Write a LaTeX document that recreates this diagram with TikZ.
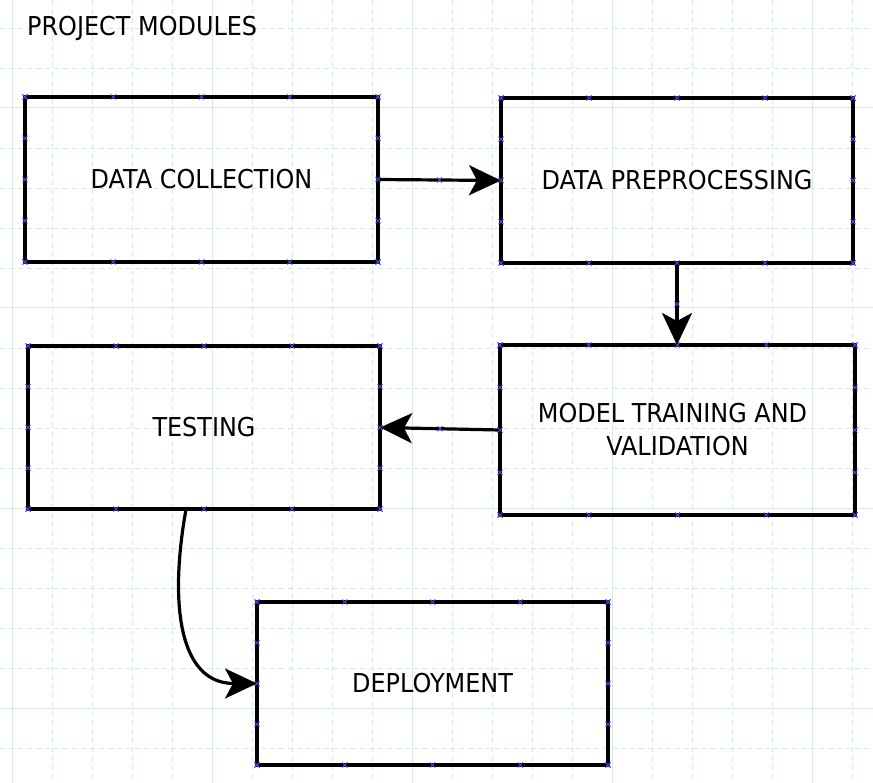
\documentclass[tikz,border=0pt]{standalone}
\usepackage{fontspec}
\setmainfont{DejaVu Sans}[FakeStretch=0.92]
\usetikzlibrary{arrows.meta,calc}
\definecolor{gridc}{RGB}{214,232,232}
\definecolor{markc}{RGB}{70,70,230}
\tikzset{
  boxnode/.style={draw=black, line width=4pt, inner sep=0pt, outer sep=0pt, align=center,
    font=\fontsize{26}{33}\selectfont},
  conn/.style={line width=3.2pt, -{Stealth[length=32pt,width=30pt,inset=8pt]}},
  gridmajor/.style={draw=gridc, line width=1pt},
  gridminor/.style={draw=gridc, line width=0.9pt, dash pattern=on 5pt off 4pt},
  markx/.style={draw=markc, line width=0.8pt}
}
\newcommand{\xmark}[1]{\draw[markx] ($(#1)+(-2.5pt,-2.5pt)$) -- ($(#1)+(2.5pt,2.5pt)$) ($(#1)+(-2.5pt,2.5pt)$) -- ($(#1)+(2.5pt,-2.5pt)$);}
\begin{document}
\begin{tikzpicture}[x=1pt,y=-1pt]
\useasboundingbox (0,0) rectangle (873,783);
\fill[white] (0,0) rectangle (873,783);
% grid
\foreach \k in {0,...,21}{
  \pgfmathtruncatemacro{\m}{mod(\k,5)}
  \pgfmathsetmacro{\xx}{12+40*\k}
  \ifnum\m=0 \draw[gridmajor] (\xx,0) -- (\xx,783); \else \draw[gridminor] (\xx,0) -- (\xx,783); \fi
}
\foreach \k in {0,...,19}{
  \pgfmathtruncatemacro{\m}{mod(\k,5)}
  \pgfmathsetmacro{\yy}{28+40*\k}
  \ifnum\m=2 \draw[gridmajor] (0,\yy) -- (873,\yy); \else \draw[gridminor] (0,\yy) -- (873,\yy); \fi
}
% title
\node[anchor=base west, inner sep=0pt, font=\fontsize{26}{33}\selectfont] (title) at (27,36) {PROJECT MODULES};
% boxes
\node[boxnode, minimum width=353pt, minimum height=165pt] (dc) at (201.5,179.5) {DATA COLLECTION};
\node[boxnode, minimum width=352pt, minimum height=165pt] (dp) at (677,180.5) {DATA PREPROCESSING};
\node[boxnode, minimum width=355pt, minimum height=170pt] (mt) at (677.5,430) {MODEL TRAINING AND\hspace*{10pt}\\VALIDATION};
\node[boxnode, minimum width=352pt, minimum height=163pt] (ts) at (204,427.5) {TESTING};
\node[boxnode, minimum width=351pt, minimum height=163pt] (dep) at (432.5,683.5) {DEPLOYMENT};
% connectors
\draw[conn] (dc.east) -- (dp.west);
\draw[conn] (dp.south) -- (dp.south |- mt.north);
\draw[conn] (mt.west) -- (ts.east);
\coordinate (tsout) at ($(ts.south west)!0.449!(ts.south east)$);
\draw[conn] (tsout) .. controls ($(tsout)+(-17,95)$) and ($(dep.west)+(-78,0)$) .. (dep.west);
% connection markers
\foreach \b in {dc,dp,mt,ts,dep}{
  \foreach \f in {0,0.25,0.5,0.75,1}{
    \xmark{$(\b.north west)!\f!(\b.north east)$}
    \xmark{$(\b.south west)!\f!(\b.south east)$}
    \xmark{$(\b.north west)!\f!(\b.south west)$}
    \xmark{$(\b.north east)!\f!(\b.south east)$}
  }
}
\xmark{$(dc.east)!0.5!(dp.west)$}
\xmark{$(dp.south)!0.5!(dp.south |- mt.north)$}
\xmark{$(mt.west)!0.5!(ts.east)$}
\end{tikzpicture}
\end{document}
